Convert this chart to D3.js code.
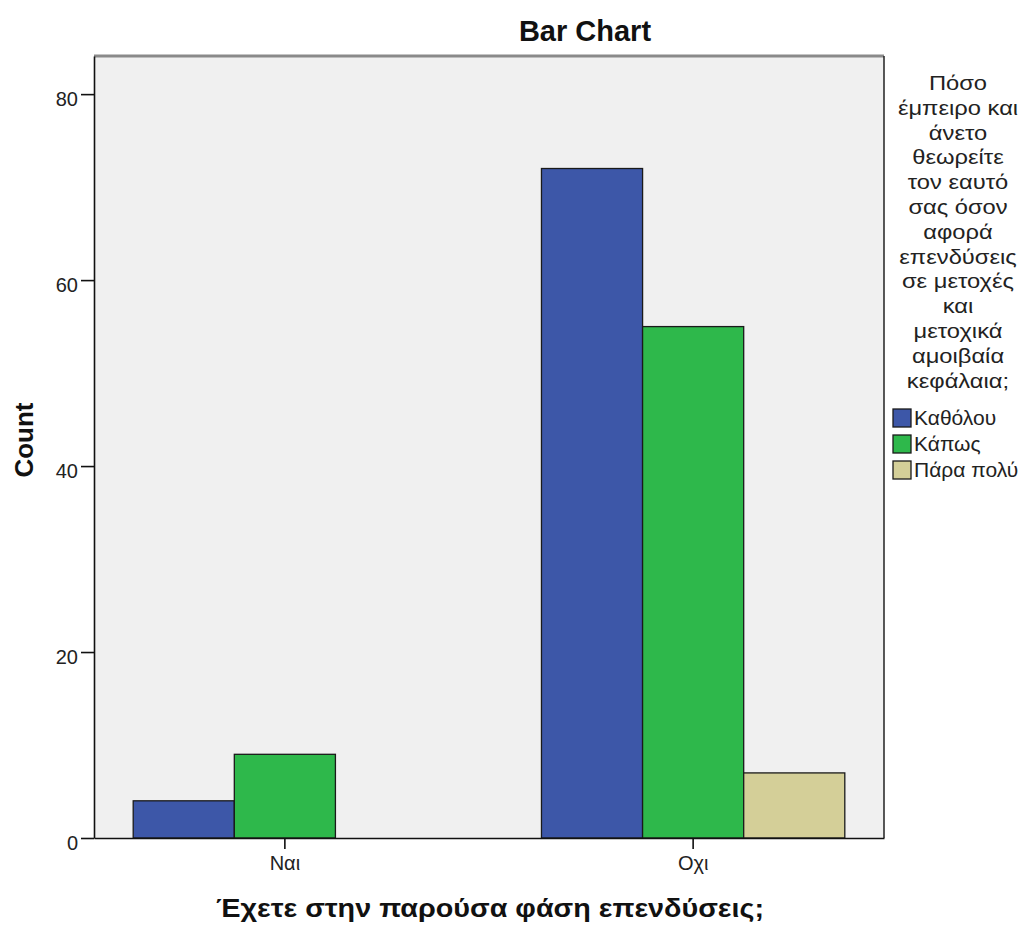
<!DOCTYPE html>
<html><head><meta charset="utf-8">
<script src="https://cdn.jsdelivr.net/npm/d3@7"></script>
<style>body{margin:0;background:#fff}svg{display:block}text{font-family:"Liberation Sans",Arial,sans-serif}</style>
</head><body>
<script>
const categories = ["Ναι", "Οχι"];
const seriesNames = ["Καθόλου", "Κάπως", "Πάρα πολύ"];
const seriesColors = ["#3d57a8", "#2eb84b", "#d4cf98"];
const valuesKatholou = [4, 72];
const valuesKapos = [9, 55];
const valuesParaPoly = [null, 7];
const yTicks = [0, 20, 40, 60, 80];
const legendTitleLines = ["Πόσο", "έμπειρο και", "άνετο", "θεωρείτε", "τον εαυτό", "σας όσον", "αφορά", "επενδύσεις", "σε μετοχές", "και", "μετοχικά", "αμοιβαία", "κεφάλαια;"];
const chartTitle = "Bar Chart";
const xTitle = "Έχετε στην παρούσα φάση επενδύσεις;";
const yTitle = "Count";

const series = [valuesKatholou, valuesKapos, valuesParaPoly];
const W = 1028, H = 926;
const m = {left: 94, right: 884, top: 56, bottom: 838};

const svg = d3.select("body").append("svg").attr("width", W).attr("height", H);

const x0 = d3.scaleBand().domain(categories).range([m.left, m.right]).paddingInner(0.257).paddingOuter(0.096);
const x1 = d3.scaleBand().domain(seriesNames).range([0, x0.bandwidth()]);
const y = d3.scaleLinear().domain([0, 84.1]).range([m.bottom, m.top]);

// plot background
svg.append("rect").attr("x", m.left).attr("y", m.top).attr("width", m.right - m.left).attr("height", m.bottom - m.top).attr("fill", "#f0f0f0");
// top and right frame
svg.append("line").attr("x1", m.left).attr("x2", m.right).attr("y1", m.top).attr("y2", m.top).attr("stroke", "#8a8a8a").attr("stroke-width", 3);
svg.append("line").attr("x1", m.right).attr("x2", m.right).attr("y1", m.top).attr("y2", m.bottom).attr("stroke", "#222").attr("stroke-width", 1.5);

// bars
const rows = [];
categories.forEach((c, i) => series.forEach((s, j) => { if (s[i] != null) rows.push({c, s: seriesNames[j], v: s[i], col: seriesColors[j]}); }));
svg.append("g").selectAll("rect").data(rows).join("rect")
  .attr("x", d => x0(d.c) + x1(d.s))
  .attr("width", x1.bandwidth())
  .attr("y", d => y(d.v))
  .attr("height", d => y(0) - y(d.v))
  .attr("fill", d => d.col)
  .attr("stroke", "#1a1a1a").attr("stroke-width", 1.3);

// y axis
const ya = svg.append("g").attr("transform", `translate(${m.left},0)`)
  .call(d3.axisLeft(y).tickValues(yTicks).tickSize(13).tickSizeOuter(0).tickPadding(3).tickFormat(d3.format("d")));
ya.select(".domain").attr("stroke", "#111").attr("stroke-width", 1.6);
ya.selectAll(".tick line").attr("stroke", "#111").attr("stroke-width", 1.6);
ya.selectAll(".tick text").attr("font-size", 20).attr("font-family", "Liberation Sans, Arial, sans-serif").attr("fill", "#222").attr("dy", "0.55em");

// x axis
const xa = svg.append("g").attr("transform", `translate(0,${m.bottom})`)
  .call(d3.axisBottom(x0).tickSize(11).tickSizeOuter(0).tickPadding(7));
xa.select(".domain").attr("stroke", "#111").attr("stroke-width", 1.6);
xa.selectAll(".tick line").attr("stroke", "#111").attr("stroke-width", 1.6);
xa.selectAll(".tick text").attr("font-size", 20).attr("font-family", "Liberation Sans, Arial, sans-serif").attr("fill", "#222");

// titles
svg.append("text").attr("x", 585).attr("y", 41).attr("text-anchor", "middle").attr("font-size", 29).attr("font-weight", "bold").attr("fill", "#111").text(chartTitle);
svg.append("text").attr("x", 490).attr("y", 917).attr("text-anchor", "middle").attr("font-size", 26).attr("font-weight", "bold").attr("fill", "#111")
  .attr("textLength", 548).attr("lengthAdjust", "spacingAndGlyphs").text(xTitle);
svg.append("text").attr("transform", "translate(33,440) rotate(-90)").attr("text-anchor", "middle").attr("font-size", 26).attr("font-weight", "bold").attr("fill", "#111").text(yTitle);

// legend
const lg = svg.append("g");
const sx = 1.13;
lg.append("g").attr("transform", `translate(958,0) scale(${sx},1)`)
  .selectAll("text.lt").data(legendTitleLines).join("text").attr("class", "lt")
  .attr("x", 0).attr("y", (d, i) => 90 + i * 24.8).attr("text-anchor", "middle")
  .attr("font-size", 21).attr("fill", "#222").text(d => d);
const li = lg.selectAll("g.li").data(seriesNames).join("g").attr("class", "li")
  .attr("transform", (d, i) => `translate(893,${409 + i * 26})`);
li.append("rect").attr("width", 18).attr("height", 18).attr("fill", (d, i) => seriesColors[i]).attr("stroke", "#1a1a1a").attr("stroke-width", 1.3);
li.append("text").attr("x", 21).attr("y", 16).attr("font-size", 21).attr("fill", "#222").text(d => d);
</script>
</body></html>
